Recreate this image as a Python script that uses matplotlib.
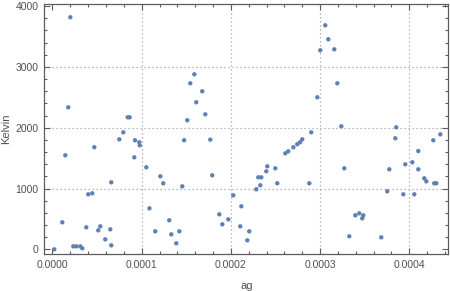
import matplotlib
matplotlib.use("Agg")
import matplotlib.pyplot as plt
from matplotlib.ticker import MultipleLocator, FormatStrFormatter

# ag values (units of 1e-4) and temperatures in Kelvin
ag_e4 = [0.200, 0.177, 0.843, 0.865, 0.794, 0.749, 0.925, 0.973, 0.978, 0.469,
         1.590, 1.545, 1.679, 1.612, 1.713, 1.511, 1.476, 1.769, 2.700, 2.744,
         2.776, 3.058, 3.092, 3.002, 3.159, 3.193, 2.969, 3.238, 2.901, 2.800,
         3.854, 3.843, 4.348, 4.269, 4.101, 0.020, 0.110, 0.144, 0.233, 0.267,
         0.312, 0.334, 0.379, 0.401, 0.446, 0.513, 0.536, 0.592, 0.648, 0.659,
         0.659, 0.917, 1.052, 1.087, 1.209, 1.242, 1.455, 1.791, 1.152, 1.309,
         1.332, 1.388, 1.422, 1.870, 1.904, 1.971, 2.027, 2.117, 2.105, 2.206,
         2.184, 2.285, 2.330, 2.307, 2.341, 2.397, 2.408, 2.498, 2.520, 2.610,
         2.643, 2.879, 3.271, 3.395, 3.439, 3.484, 3.473, 3.327, 3.686, 3.753,
         3.776, 3.933, 3.955, 4.034, 4.056, 4.101, 4.168, 4.191, 4.280, 4.303]
kelvin = [3816, 2335, 2171, 2171, 1924, 1809, 1793, 1760, 1710, 1679,
          2878, 2730, 2599, 2418, 2220, 2122, 1793, 1804, 1678, 1729,
          1760, 3684, 3454, 3273, 3289, 2730, 2500, 2023, 1924, 1809,
          2007, 1826, 1891, 1793, 1617, 0, 444, 1546, 49, 49,
          49, 16, 362, 905, 921, 312, 378, 164, 329, 66,
          1102, 1513, 1349, 674, 1201, 1086, 1036, 1217, 296, 477,
          247, 99, 296, 576, 411, 493, 888, 707, 378, 296,
          148, 987, 1053, 1184, 1184, 1283, 1365, 1332, 1086, 1579,
          1612, 1086, 1332, 559, 592, 559, 510, 214, 197, 954,
          1316, 905, 1398, 1431, 905, 1316, 1168, 1118, 1086, 1086]

ag = [v * 1e-4 for v in ag_e4]

plt.rcParams['font.family'] = ['Liberation Sans', 'DejaVu Sans']

fig = plt.figure(figsize=(4.5, 2.91), dpi=100)
ax = fig.add_axes([0.0984, 0.1271, 0.8978, 0.8581])

frame_col = '#5c5c5c'
text_col = '#505050'

# dotted grid at major ticks (not at 0 / 4000)
for gx in [0.0001, 0.0002, 0.0003, 0.0004]:
    ax.axvline(gx, color='#a0a0a0', lw=0.9, ls=(0, (1, 2.2)), zorder=1)
for gy in [1000, 2000, 3000]:
    ax.axhline(gy, color='#a0a0a0', lw=0.9, ls=(0, (1, 2.2)), zorder=1)

ax.scatter(ag, kelvin, s=10, color='#5e81b5', edgecolors='none', zorder=3)

ax.set_xlim(-0.0000092, 0.00044372)
ax.set_ylim(-77, 4029)

ax.xaxis.set_major_locator(MultipleLocator(0.0001))
ax.xaxis.set_minor_locator(MultipleLocator(0.00002))
ax.xaxis.set_major_formatter(FormatStrFormatter('%.4f'))
ax.yaxis.set_major_locator(MultipleLocator(1000))
ax.yaxis.set_minor_locator(MultipleLocator(200))

ax.tick_params(which='both', direction='in', top=True, right=True,
               color=frame_col, labelcolor=text_col, labelsize=7.5, width=0.8)
ax.tick_params(which='major', length=4.5, pad=4)
ax.tick_params(which='minor', length=2.5)
ax.tick_params(labeltop=False, labelright=False)

for sp in ax.spines.values():
    sp.set_color(frame_col)
    sp.set_linewidth(0.9)

ax.set_xlabel('ag', color=text_col, fontsize=8, labelpad=8)
ax.set_ylabel('Kelvin', color=text_col, fontsize=8, labelpad=3)

fig.savefig('out.png', dpi=100)
